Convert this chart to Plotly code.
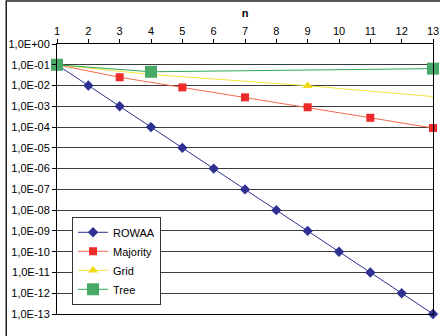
import plotly.graph_objects as go

# Failure probability versus n for four protocols
rowaa_n = [1, 2, 3, 4, 5, 6, 7, 8, 9, 10, 11, 12, 13]
rowaa_p = [1e-1, 1e-2, 1e-3, 1e-4, 1e-5, 1e-6, 1e-7, 1e-8, 1e-9, 1e-10, 1e-11, 1e-12, 1e-13]

majority_n = [1, 3, 5, 7, 9, 11, 13]
majority_p = [0.1, 0.025, 0.0081, 0.0027, 0.0009, 0.00028, 0.00009]

grid_n = [1, 4, 9, 16]
grid_p = [0.1, 0.034, 0.0098, 0.0012]

tree_n = [1, 4, 13]
tree_p = [0.1, 0.046, 0.065]

x_ticks = list(range(1, 14))
y_exponents = list(range(0, -14, -1))
y_tickvals = [10.0 ** e for e in y_exponents]
y_ticktext = [f"1,0E{e:+03d}" for e in y_exponents]

FONT = "Liberation Sans, Arial, sans-serif"

fig = go.Figure()
fig.add_trace(go.Scatter(
    x=rowaa_n, y=rowaa_p, name="ROWAA", mode="lines+markers",
    line=dict(color="#2E3192", width=1),
    marker=dict(symbol="diamond", size=8, color="#2E3192"),
    cliponaxis=False,
))
fig.add_trace(go.Scatter(
    x=majority_n, y=majority_p, name="Majority", mode="lines+markers",
    line=dict(color="#F26A4F", width=1),
    marker=dict(symbol="square", size=8, color="#EE2A2A"),
    cliponaxis=False,
))
fig.add_trace(go.Scatter(
    x=grid_n, y=grid_p, name="Grid", mode="lines+markers",
    line=dict(color="#F5E43A", width=1),
    marker=dict(symbol="triangle-up", size=9, color="#F2DA1A"),
))
fig.add_trace(go.Scatter(
    x=tree_n, y=tree_p, name="Tree", mode="lines+markers",
    line=dict(color="#2DAA55", width=1),
    marker=dict(symbol="square", size=12, color="#48A868"),
    cliponaxis=False,
))

fig.update_layout(
    width=440, height=336,
    margin=dict(l=57, r=7, t=44, b=22),
    paper_bgcolor="white", plot_bgcolor="white",
    font=dict(family=FONT, size=11, color="black"),
    showlegend=True,
    legend=dict(
        x=0.04, y=0.36, xanchor="left", yanchor="top",
        bgcolor="white", bordercolor="#333333", borderwidth=1,
        font=dict(family=FONT, size=11),
        tracegroupgap=0, itemwidth=30,
    ),
    xaxis=dict(
        side="top", range=[1, 13], tickvals=x_ticks,
        showgrid=False, zeroline=False,
        showline=True, linecolor="black", linewidth=1, mirror=True,
        ticks="outside", ticklen=4, tickcolor="black",
        ticklabeloverflow="allow", automargin=False,
        title=dict(text="<b>n</b>", font=dict(family=FONT, size=11), standoff=4),
    ),
    yaxis=dict(
        type="log", range=[-13, 0],
        tickvals=y_tickvals, ticktext=y_ticktext,
        showgrid=True, gridcolor="#3c3c3c", gridwidth=1,
        showline=True, linecolor="black", linewidth=1, mirror=True,
        ticks="outside", ticklen=4, tickcolor="black",
        zeroline=False, automargin=False,
    ),
    shapes=[dict(
        type="rect", xref="paper", yref="paper",
        x0=-0.135, x1=1.2, y0=1.159, y1=-0.3,
        line=dict(color="#222222", width=1.5), layer="below",
    )],
)

fig.write_html("out.html")
